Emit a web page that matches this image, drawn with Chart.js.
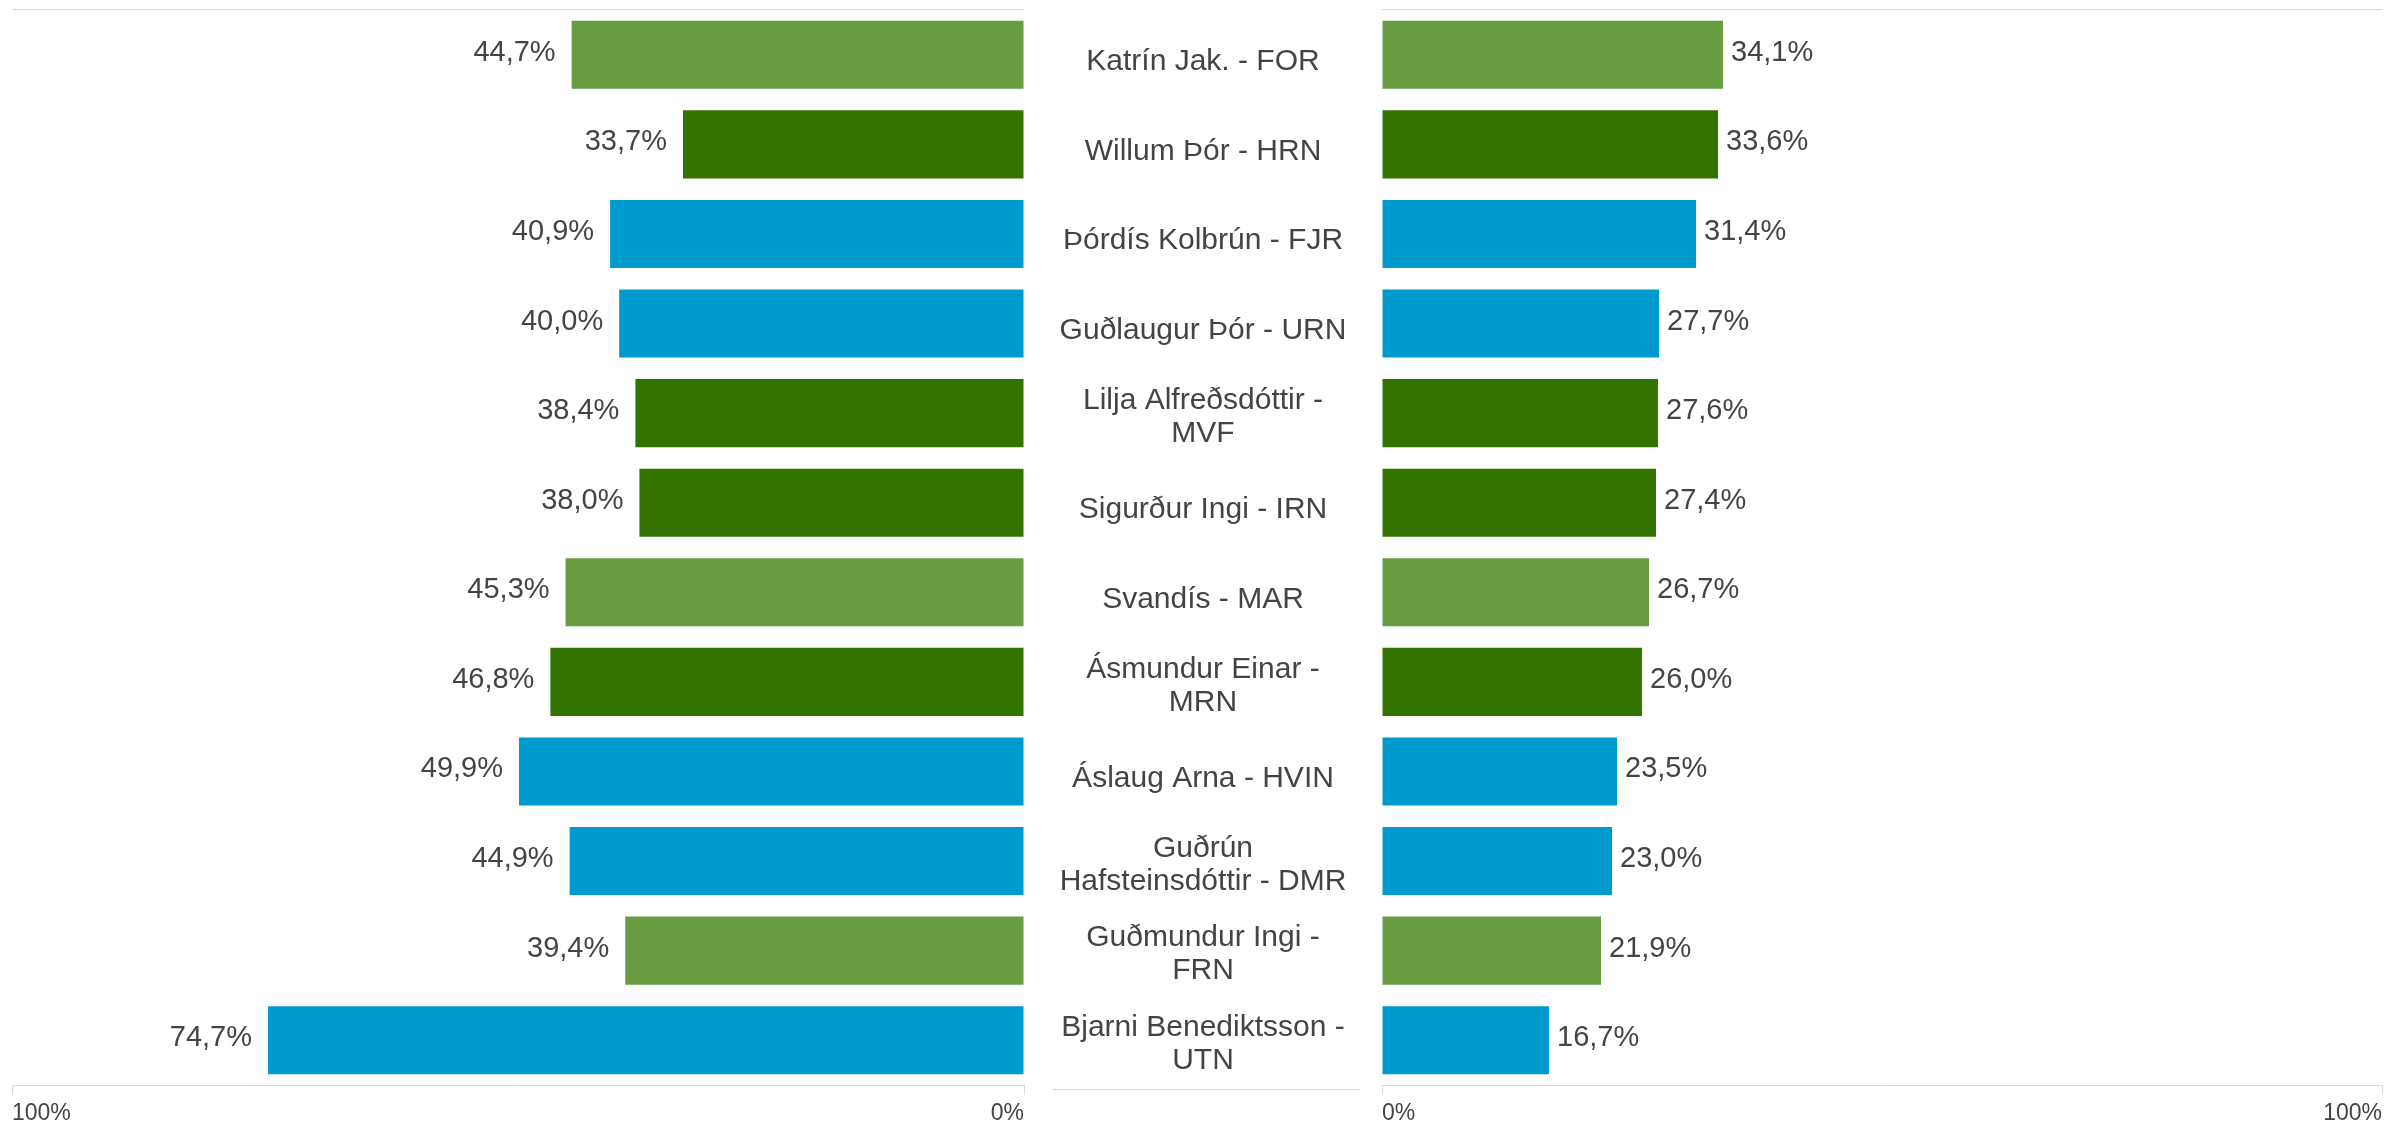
<!DOCTYPE html>
<html>
<head>
<meta charset="utf-8">
<script src="https://cdn.jsdelivr.net/npm/chart.js@4.4.1/dist/chart.umd.min.js"></script>
<style>
  html, body { margin: 0; padding: 0; background: #fff; overflow: hidden; }
  #wrap { position: relative; width: 2387px; height: 1125px; }
  #leftBox { position: absolute; left: 0; top: 0; width: 1382px; height: 1125px; }
  #rightBox { position: absolute; left: 1372px; top: 0; width: 1015px; height: 1125px; }
</style>
</head>
<body>
<div id="wrap">
  <div id="leftBox"><canvas id="left"></canvas></div>
  <div id="rightBox"><canvas id="right"></canvas></div>
</div>
<script>
// categories, top to bottom (line breaks as in the picture)
const categories = [
    ['Katrín Jak. - FOR'],
    ['Willum Þór - HRN'],
    ['Þórdís Kolbrún - FJR'],
    ['Guðlaugur Þór - URN'],
    ['Lilja Alfreðsdóttir -', 'MVF'],
    ['Sigurður Ingi - IRN'],
    ['Svandís - MAR'],
    ['Ásmundur Einar -', 'MRN'],
    ['Áslaug Arna - HVIN'],
    ['Guðrún', 'Hafsteinsdóttir - DMR'],
    ['Guðmundur Ingi -', 'FRN'],
    ['Bjarni Benediktsson -', 'UTN']
];
const leftValues  = [44.7, 33.7, 40.9, 40.0, 38.4, 38.0, 45.3, 46.8, 49.9, 44.9, 39.4, 74.7];
const rightValues = [34.1, 33.6, 31.4, 27.7, 27.6, 27.4, 26.7, 26.0, 23.5, 23.0, 21.9, 16.7];
const groups = ['light', 'dark', 'blue', 'blue', 'dark', 'dark', 'light', 'dark', 'blue', 'blue', 'light', 'blue'];
const axisTicks = [0, 100];

const groupColors = { light: '#679c41', dark: '#337400', blue: '#009bce' };
const barColors = groups.map(g => groupColors[g]);

const FONT = "'Liberation Sans', Arial, sans-serif";
const TEXT = '#444444';
const LINE = '#d9d9d9';

const fmt = v => v.toFixed(1).replace('.', ',') + '%';

// value labels next to the bar ends
const valueLabels = {
    id: 'valueLabels',
    afterDatasetsDraw(chart, args, opts) {
        const ctx = chart.ctx;
        const meta = chart.getDatasetMeta(0);
        const data = chart.data.datasets[0].data;
        ctx.save();
        ctx.font = '29px ' + FONT;
        ctx.fillStyle = TEXT;
        ctx.textBaseline = 'middle';
        ctx.textAlign = opts.side === 'left' ? 'right' : 'left';
        meta.data.forEach((bar, i) => {
            const x = opts.side === 'left' ? bar.x - 16 : bar.x + 8;
            ctx.fillText(fmt(data[i]), x, bar.y - 2);
        });
        ctx.restore();
    }
};

// category names in the gap between the two panels
const centerLabels = {
    id: 'centerLabels',
    afterDraw(chart) {
        const ctx = chart.ctx;
        const area = chart.chartArea;
        const yScale = chart.scales.y;
        const cx = area.right + 179;
        ctx.save();
        ctx.font = '30px ' + FONT;
        ctx.fillStyle = TEXT;
        ctx.textAlign = 'center';
        ctx.textBaseline = 'middle';
        categories.forEach((lines, i) => {
            const cy = yScale.getPixelForValue(i) + (lines.length > 1 ? 4 : 7);
            const lh = 33;
            lines.forEach((t, k) => {
                ctx.fillText(t, cx, cy + (k - (lines.length - 1) / 2) * lh);
            });
        });
        ctx.strokeStyle = LINE;
        ctx.lineWidth = 1;
        ctx.beginPath();
        ctx.moveTo(area.right + 28, area.bottom + 4.5);
        ctx.lineTo(area.right + 336, area.bottom + 4.5);
        ctx.stroke();
        ctx.restore();
    }
};

function makeConfig(values, side) {
    return {
        type: 'bar',
        data: {
            labels: categories.map(c => c.join(' ')),
            datasets: [{
                data: values,
                backgroundColor: barColors,
                barPercentage: 0.76,
                categoryPercentage: 1.0
            }]
        },
        options: {
            indexAxis: 'y',
            responsive: true,
            maintainAspectRatio: false,
            animation: false,
            events: [],
            layout: {
                padding: side === 'left'
                    ? { left: 12, right: 358, top: 10, bottom: 0 }
                    : { left: 10, right: 1, top: 10, bottom: 0 }
            },
            plugins: {
                legend: { display: false },
                tooltip: { enabled: false },
                valueLabels: { side: side }
            },
            scales: {
                x: {
                    min: 0,
                    max: 100,
                    reverse: side === 'left',
                    position: 'bottom',
                    afterBuildTicks: axis => {
                        axis.ticks = axisTicks.map(v => ({ value: v }));
                    },
                    afterFit: axis => { axis.height = 40; },
                    ticks: {
                        align: 'inner',
                        padding: 5,
                        color: TEXT,
                        font: { family: FONT, size: 23 },
                        callback: v => v + '%'
                    },
                    grid: {
                        drawOnChartArea: false,
                        drawTicks: true,
                        tickLength: 10,
                        color: LINE
                    },
                    border: { display: true, color: LINE }
                },
                y: {
                    display: true,
                    ticks: { display: false },
                    grid: {
                        drawTicks: false,
                        offset: true,
                        color: c => c.index === 0 ? LINE : 'rgba(0,0,0,0)'
                    },
                    border: { display: false }
                }
            }
        },
        plugins: side === 'left' ? [valueLabels, centerLabels] : [valueLabels]
    };
}

new Chart(document.getElementById('left'), makeConfig(leftValues, 'left'));
new Chart(document.getElementById('right'), makeConfig(rightValues, 'right'));
</script>
</body>
</html>
